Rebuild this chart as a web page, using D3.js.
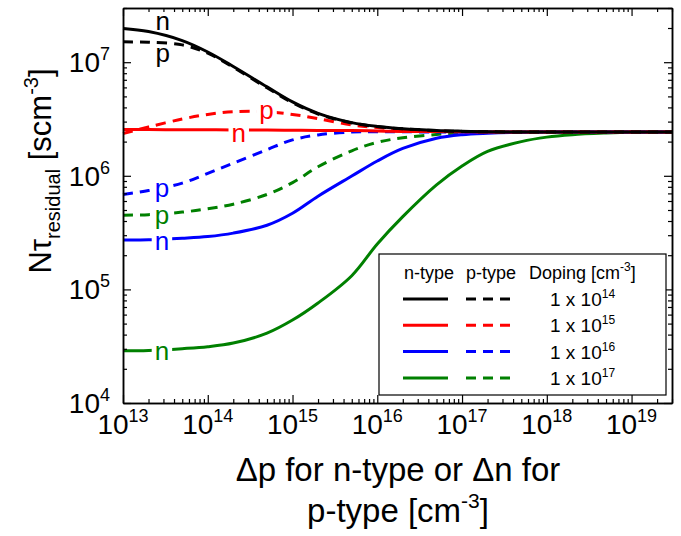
<!DOCTYPE html>
<html><head><meta charset="utf-8">
<script src="https://cdn.jsdelivr.net/npm/d3@7"></script>
<style>
body{margin:0;background:#fff;}
text{font-family:"Liberation Sans",Arial,sans-serif;fill:#000;}
</style>
</head><body>
<svg id="c" width="681" height="536"></svg>
<script>
// ---------- data ----------
const deltaN = [1e13,2e13,5e13,1e14,2e14,5e14,1e15,2e15,5e15,1e16,2e16,5e16,1e17,2e17,5e17,1e18,2e18,5e18,1e19,3e19];
const nType1e14 = [1.98e7,1.86e7,1.55e7,1.23e7,9.18e6,6.07e6,4.47e6,3.55e6,2.94e6,2.72e6,2.60e6,2.51e6,2.47e6,2.44e6,2.43e6,2.43e6,2.43e6,2.43e6,2.43e6,2.43e6];
const pType1e14 = [1.51e7,1.50e7,1.42e7,1.20e7,9.0e6,5.95e6,4.40e6,3.50e6,2.92e6,2.71e6,2.59e6,2.50e6,2.46e6,2.44e6,2.43e6,2.43e6,2.43e6,2.43e6,2.43e6,2.43e6];
const nType1e15 = [2.55e6,2.55e6,2.54e6,2.54e6,2.53e6,2.53e6,2.52e6,2.51e6,2.50e6,2.48e6,2.46e6,2.45e6,2.44e6,2.43e6,2.43e6,2.43e6,2.43e6,2.43e6,2.43e6,2.43e6];
const pType1e15 = [2.36e6,2.69e6,3.16e6,3.47e6,3.67e6,3.67e6,3.47e6,3.19e6,2.80e6,2.66e6,2.54e6,2.48e6,2.45e6,2.44e6,2.43e6,2.43e6,2.43e6,2.43e6,2.43e6,2.43e6];
const nType1e16 = [2.72e5,2.73e5,2.82e5,2.92e5,3.13e5,3.67e5,4.68e5,6.61e5,9.95e5,1.35e6,1.74e6,2.14e6,2.30e6,2.37e6,2.42e6,2.43e6,2.43e6,2.43e6,2.43e6,2.43e6];
const pType1e16 = [6.85e5,7.41e5,8.61e5,1.05e6,1.29e6,1.70e6,2.07e6,2.29e6,2.43e6,2.44e6,2.44e6,2.43e6,2.43e6,2.43e6,2.43e6,2.43e6,2.43e6,2.43e6,2.43e6,2.43e6];
const nType1e17 = [2.88e4,2.90e4,3.01e4,3.13e4,3.37e4,4.12e4,5.37e4,7.59e4,1.32e5,2.51e5,4.37e5,8.32e5,1.22e6,1.64e6,2.0e6,2.19e6,2.30e6,2.38e6,2.42e6,2.43e6];
const pType1e17 = [4.50e5,4.55e5,4.79e5,5.13e5,5.62e5,6.85e5,8.71e5,1.20e6,1.66e6,1.97e6,2.16e6,2.31e6,2.39e6,2.42e6,2.43e6,2.43e6,2.43e6,2.43e6,2.43e6,2.43e6];

const dopingExponents = ["14","15","16","17"];
const xTickExponents = [13,14,15,16,17,18,19];
const yTickExponents = [4,5,6,7];

// curve labels: text, x value, baseline y value
const curveLabels = [
  {text:"n", x:2.95e13, y:1.91e7, color:"#000000", knock:false},
  {text:"p", x:2.95e13, y:1.01e7, color:"#000000", knock:false},
  {text:"p", x:4.94e14, y:3.18e6, color:"#ff0000", knock:true},
  {text:"n", x:2.32e14, y:1.98e6, color:"#ff0000", knock:true},
  {text:"p", x:2.88e13, y:6.49e5, color:"#0000ff", knock:true},
  {text:"p", x:2.88e13, y:3.75e5, color:"#008000", knock:true},
  {text:"n", x:2.88e13, y:2.22e5, color:"#0000ff", knock:true},
  {text:"n", x:2.88e13, y:2.39e4, color:"#008000", knock:true}
];

// ---------- setup ----------
const svg = d3.select("#c");
const L = 123, R = 672, T = 8, B = 403;
const x = d3.scaleLog().domain([1e13, 3e19]).range([L, R]);
const y = d3.scaleLog().domain([1e4, 3e7]).range([B, T]);

const series = [
  {vals:nType1e17, color:"#008000", dash:null},
  {vals:pType1e17, color:"#008000", dash:"10,7"},
  {vals:nType1e16, color:"#0000ff", dash:null},
  {vals:pType1e16, color:"#0000ff", dash:"10,7"},
  {vals:pType1e15, color:"#ff0000", dash:"10,7"},
  {vals:nType1e15, color:"#ff0000", dash:null},
  {vals:pType1e14, color:"#000000", dash:"10,7"},
  {vals:nType1e14, color:"#000000", dash:null}
];

const line = d3.line()
  .x(d => x(d[0])).y(d => y(d[1]))
  .curve(d3.curveCatmullRom.alpha(0.5));

const plot = svg.append("g");
series.forEach(s => {
  plot.append("path")
    .datum(deltaN.map((v,i) => [v, s.vals[i]]))
    .attr("d", line)
    .attr("fill","none")
    .attr("stroke", s.color)
    .attr("stroke-width", 3)
    .attr("stroke-dasharray", s.dash);
});

// curve labels
const lab = svg.append("g");
curveLabels.forEach(c => {
  const g = lab.append("g");
  const t = g.append("text")
    .attr("x", x(c.x)).attr("y", y(c.y))
    .attr("text-anchor","middle")
    .style("font-size","26px")
    .style("fill", c.color)
    .text(c.text);
  if (c.knock) {
    const bb = t.node().getBBox();
    const yb = y(c.y);
    const bottom = c.text === "p" ? yb + 6 : yb + 1;
    g.insert("rect","text")
      .attr("x", bb.x - 3).attr("width", bb.width + 6)
      .attr("y", yb - 16).attr("height", bottom - (yb - 16))
      .attr("fill","#fff");
  }
});

// ---------- axes ----------
const majorX = xTickExponents.map(e => Math.pow(10, e));
const minorX = [];
for (let e = 13; e <= 19; e++) for (let m = 2; m <= 9; m++) { const v = m*Math.pow(10,e); if (v <= 3e19) minorX.push(v); }
const majorY = yTickExponents.map(e => Math.pow(10, e));
const minorY = [];
for (let e = 4; e <= 7; e++) for (let m = 2; m <= 9; m++) { const v = m*Math.pow(10,e); if (v <= 3e7) minorY.push(v); }

function styleAxis(g){
  g.selectAll("text").remove();
  g.selectAll("path").attr("stroke","#000").attr("stroke-width",1.5);
  g.selectAll("line").attr("stroke","#000").attr("stroke-width",1.2);
}
function addAxis(gen, tr){
  svg.append("g").attr("transform", tr).call(gen).call(styleAxis);
}
addAxis(d3.axisBottom(x).tickValues(majorX).tickSize(-8).tickSizeOuter(0), `translate(0,${B})`);
addAxis(d3.axisBottom(x).tickValues(minorX).tickSize(-4).tickSizeOuter(0), `translate(0,${B})`);
addAxis(d3.axisTop(x).tickValues(majorX).tickSize(-8).tickSizeOuter(0), `translate(0,${T})`);
addAxis(d3.axisTop(x).tickValues(minorX).tickSize(-4).tickSizeOuter(0), `translate(0,${T})`);
addAxis(d3.axisLeft(y).tickValues(majorY).tickSize(-8).tickSizeOuter(0), `translate(${L},0)`);
addAxis(d3.axisLeft(y).tickValues(minorY).tickSize(-4).tickSizeOuter(0), `translate(${L},0)`);
addAxis(d3.axisRight(y).tickValues(majorY).tickSize(-8).tickSizeOuter(0), `translate(${R},0)`);
addAxis(d3.axisRight(y).tickValues(minorY).tickSize(-4).tickSizeOuter(0), `translate(${R},0)`);

// tick labels
const tl = svg.append("g").style("font-size","28px");
xTickExponents.forEach(e => {
  const t = tl.append("text").attr("x", x(Math.pow(10,e))).attr("y", B + 31).attr("text-anchor","middle");
  t.append("tspan").text("10");
  t.append("tspan").attr("dy", -12).style("font-size","18px").text(e);
});
yTickExponents.forEach(e => {
  const t = tl.append("text").attr("x", L - 13).attr("y", y(Math.pow(10,e)) + 10).attr("text-anchor","end");
  t.append("tspan").text("10");
  t.append("tspan").attr("dy", -12).style("font-size","18px").text(e);
});

// axis titles
const xt = svg.append("g").style("font-size","33px").attr("text-anchor","middle");
xt.append("text").attr("x", 398).attr("y", 481).text("\u0394p for n-type or \u0394n for");
const xt2 = xt.append("text").attr("x", 398).attr("y", 522);
xt2.append("tspan").text("p-type [cm");
xt2.append("tspan").attr("dy", -14).style("font-size","21px").text("-3");
xt2.append("tspan").attr("dy", 14).text("]");

const yt = svg.append("text").attr("transform","translate(51,171) rotate(-90)")
  .attr("text-anchor","middle").style("font-size","31px");
yt.append("tspan").text("N\u03c4");
yt.append("tspan").attr("dy", 9).style("font-size","20px").text("residual");
yt.append("tspan").attr("dy", -9).text(" [scm");
yt.append("tspan").attr("dy", -13).style("font-size","20px").text("-3");
yt.append("tspan").attr("dy", 13).text("]");

// ---------- legend ----------
const lg = svg.append("g");
lg.append("rect").attr("x",379).attr("y",254).attr("width",287).attr("height",141)
  .attr("fill","#fff").attr("stroke","#000").attr("stroke-width",1.2);
const hdr = lg.append("g").style("font-size","18px");
hdr.append("text").attr("x",404).attr("y",279).text("n-type");
hdr.append("text").attr("x",466).attr("y",279).text("p-type");
const dh = hdr.append("text").attr("x",529).attr("y",279);
dh.append("tspan").text("Doping [cm");
dh.append("tspan").attr("dy",-8).style("font-size","12px").text("-3");
dh.append("tspan").attr("dy",8).text("]");
const legColors = ["#000000","#ff0000","#0000ff","#008000"];
dopingExponents.forEach((e,i) => {
  const yy = 299 + i*26.3;
  lg.append("line").attr("x1",403).attr("x2",448).attr("y1",yy).attr("y2",yy)
    .attr("stroke",legColors[i]).attr("stroke-width",3);
  lg.append("line").attr("x1",466).attr("x2",511).attr("y1",yy).attr("y2",yy)
    .attr("stroke",legColors[i]).attr("stroke-width",3).attr("stroke-dasharray","10,7");
  const t = lg.append("text").attr("x",550).attr("y",yy+7).style("font-size","19px");
  t.append("tspan").text("1 x 10");
  t.append("tspan").attr("dy",-8).style("font-size","12px").text(e);
});
</script>
</body></html>
